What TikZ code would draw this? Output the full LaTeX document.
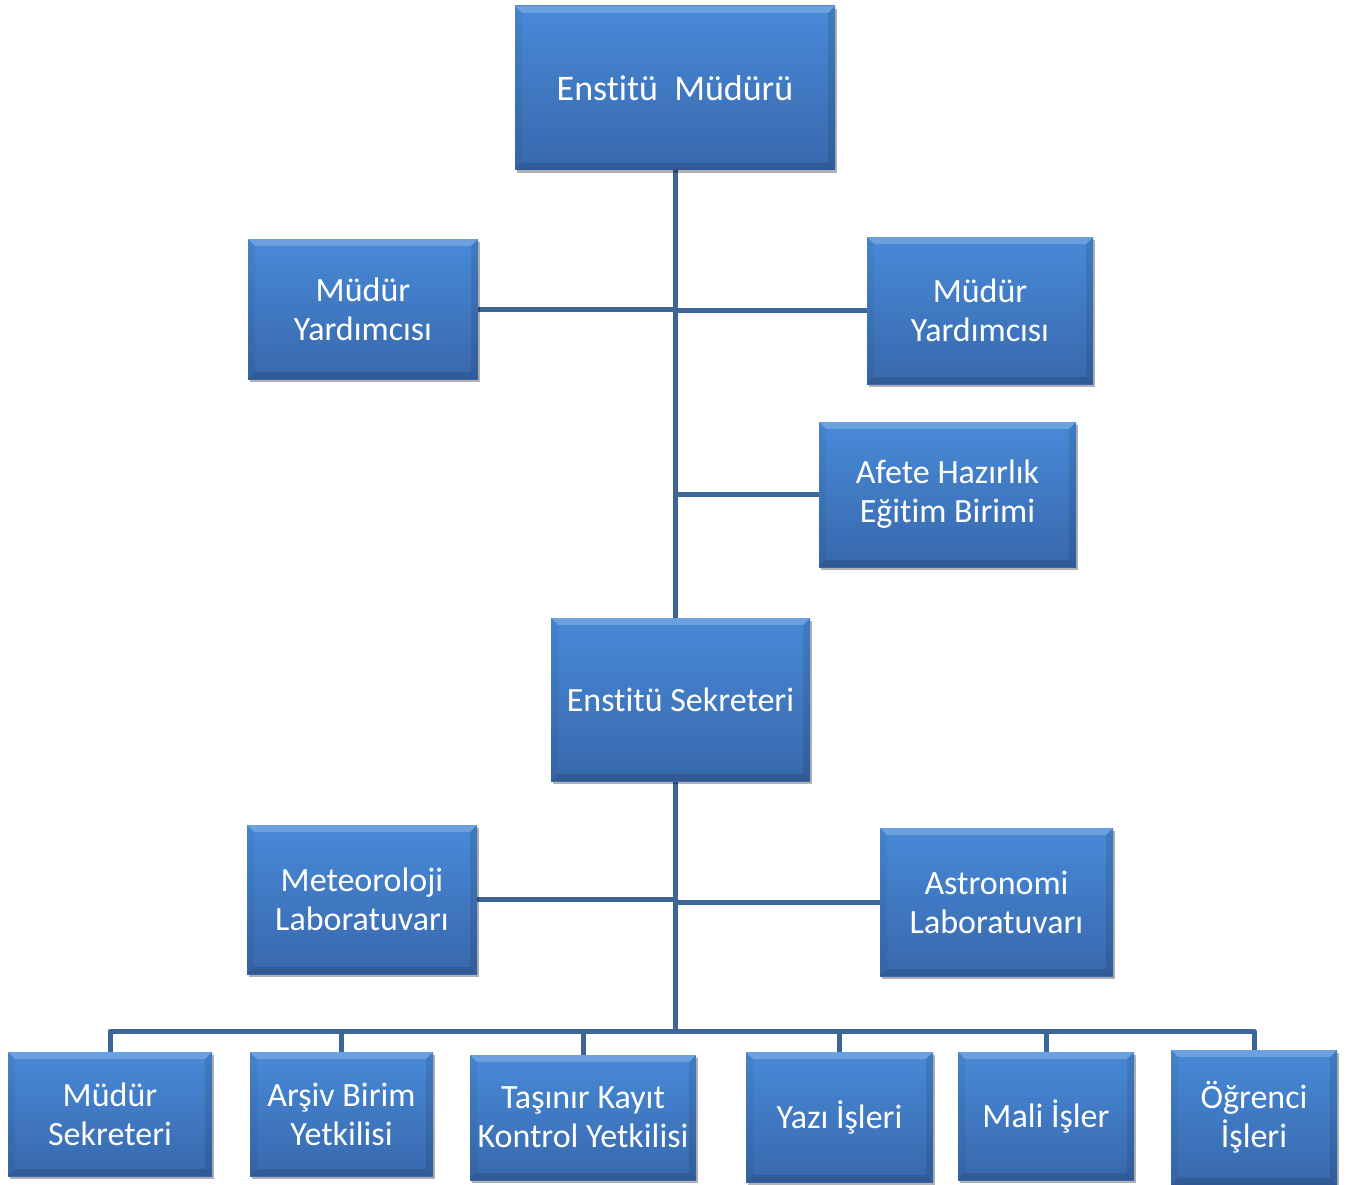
\documentclass[tikz,border=0pt]{standalone}
\usepackage{fontspec}
\setmainfont{Carlito}[RawFeature=-liga]
\usetikzlibrary{shadows,backgrounds}
\definecolor{boxtop}{RGB}{72,138,216}
\definecolor{boxbot}{RGB}{56,104,172}
\definecolor{linec}{RGB}{62,101,152}
\tikzset{
  orgbox/.style={rectangle, inner sep=0pt, align=center, text=white,
    font=\fontsize{34}{39}\selectfont,
    top color=boxtop, bottom color=boxbot, draw=none,
    drop shadow={shadow xshift=2pt, shadow yshift=-3pt, opacity=0.3, fill=black},
    path picture={
      \fill[white,opacity=0.20] (path picture bounding box.north west) -- (path picture bounding box.north east)
        -- ([shift={(-7pt,-7pt)}]path picture bounding box.north east) -- ([shift={(7pt,-7pt)}]path picture bounding box.north west) -- cycle;
      \fill[black,opacity=0.13] (path picture bounding box.south west) -- (path picture bounding box.south east)
        -- ([shift={(-7pt,7pt)}]path picture bounding box.south east) -- ([shift={(7pt,7pt)}]path picture bounding box.south west) -- cycle;
      \fill[black,opacity=0.05] (path picture bounding box.north west) -- ([shift={(7pt,-7pt)}]path picture bounding box.north west)
        -- ([shift={(7pt,7pt)}]path picture bounding box.south west) -- (path picture bounding box.south west) -- cycle;
      \fill[black,opacity=0.10] (path picture bounding box.north east) -- ([shift={(-7pt,-7pt)}]path picture bounding box.north east)
        -- ([shift={(-7pt,7pt)}]path picture bounding box.south east) -- (path picture bounding box.south east) -- cycle;
    }},
  conn/.style={draw=linec, line width=5pt}
}
\begin{document}
\begin{tikzpicture}[x=1pt,y=-1pt]
\useasboundingbox (0,0) rectangle (1354,1185);

\node[orgbox, minimum width=320pt, minimum height=164pt, font=\fontsize{36}{41}\selectfont] (top) at (675,88) {Enstitü\hspace{0.45em}Müdürü};
\node[orgbox, minimum width=230pt, minimum height=140pt] (myl) at (363,309) {Müdür\\Yardımcısı};
\node[orgbox, minimum width=226pt, minimum height=147pt] (myr) at (980,310.5) {Müdür\\Yardımcısı};
\node[orgbox, minimum width=257pt, minimum height=145pt] (af) at (947.5,494.5) {Afete Hazırlık\\Eğitim Birimi};
\node[orgbox, minimum width=259pt, minimum height=163pt] (sek) at (680.5,699.5) {Enstitü Sekreteri};
\node[orgbox, minimum width=230pt, minimum height=149pt] (met) at (362,899.5) {Meteoroloji\\Laboratuvarı};
\node[orgbox, minimum width=233pt, minimum height=148pt] (ast) at (996.5,902) {Astronomi\\Laboratuvarı};
\node[orgbox, minimum width=204pt, minimum height=124pt] (ms) at (110,1114) {Müdür\\Sekreteri};
\node[orgbox, minimum width=183pt, minimum height=124pt] (ar) at (341.5,1114) {Arşiv Birim\\Yetkilisi};
\node[orgbox, minimum width=226pt, minimum height=125pt] (ta) at (583,1117.5) {Taşınır Kayıt\\Kontrol Yetkilisi};
\node[orgbox, minimum width=187pt, minimum height=130pt] (ya) at (839.5,1117) {Yazı İşleri};
\node[orgbox, minimum width=176pt, minimum height=128pt] (ma) at (1046,1116) {Mali İşler};
\node[orgbox, minimum width=166pt, minimum height=135pt] (og) at (1254,1117.5) {Öğrenci\\İşleri};

\coordinate (bus) at (675,1031);
\begin{scope}[on background layer]
\fill[white] (0,0) rectangle (1354,1185);
\draw[conn] (top.south) -- (top.south |- sek.north);
\draw[conn] (myl.east) -- (myl.east -| top.south);
\draw[conn] (myr.west) -- (myr.west -| top.south);
\draw[conn] (af.west) -- (af.west -| top.south);
\draw[conn] (sek.south -| bus) -- (bus);
\draw[conn] (met.east) -- (met.east -| bus);
\draw[conn] (ast.west) -- (ast.west -| bus);
\draw[conn, line join=round] (ms.north) |- (bus) -| (og.north);
\draw[conn] (ar.north) -- (ar.north |- bus);
\draw[conn] (ta.north) -- (ta.north |- bus);
\draw[conn] (ya.north) -- (ya.north |- bus);
\draw[conn] (ma.north) -- (ma.north |- bus);
\end{scope}
\end{tikzpicture}
\end{document}
